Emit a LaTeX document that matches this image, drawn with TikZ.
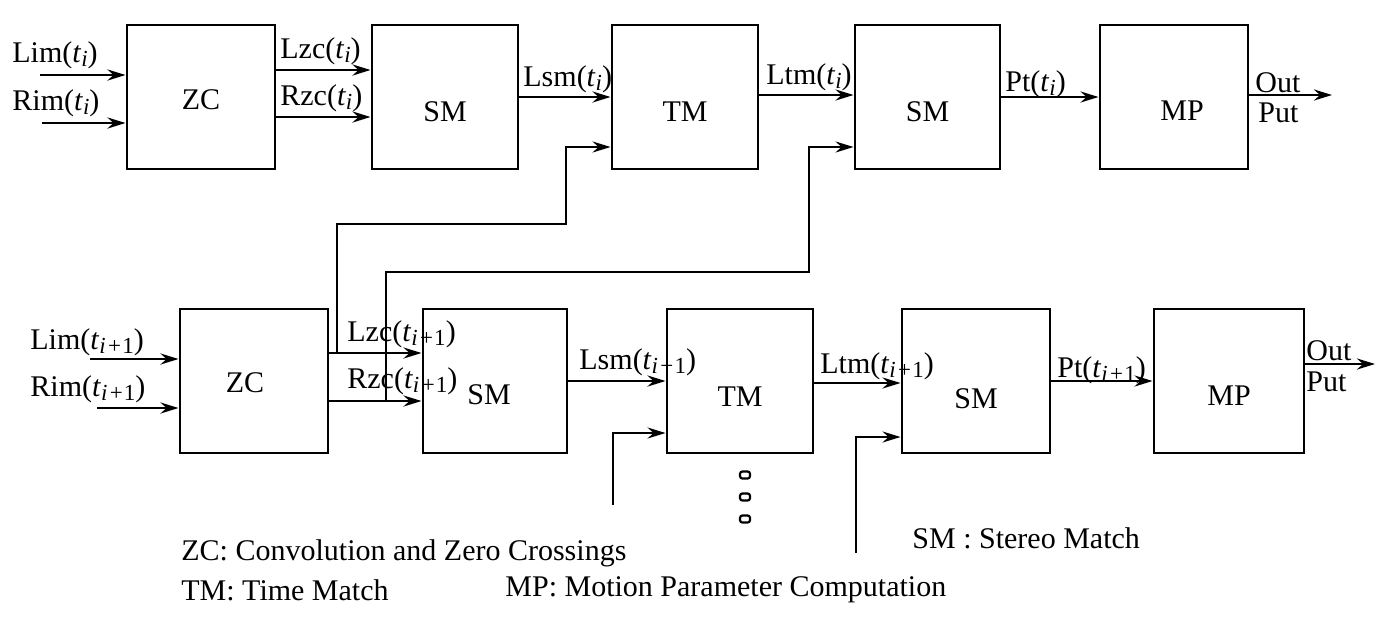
\documentclass[tikz,border=0pt]{standalone}
\usepackage{fontspec}
\setmainfont{Liberation Serif}
\usetikzlibrary{arrows.meta}
\newcommand\tsb[1]{\textit{t}\raisebox{-0.35ex}{\fontsize{11.5}{12}\selectfont #1}}
\newcommand\ipo{\textit{i}\kern1.2pt+\kern0.6pt1}
\begin{document}
\begin{tikzpicture}[x=0.5pt,y=-0.5pt,
  blk/.style={draw, line width=1.45pt, minimum height=72pt, inner sep=0pt},
  arr/.style={line width=1.4pt, -{Stealth[length=9pt,width=5.5pt,inset=3pt]}},
  feed/.style={line width=1.15pt},
  lbl/.style={anchor=base west, inner sep=0pt},
  txt/.style={inner sep=0pt},
  font=\fontsize{15}{18}\selectfont]
\useasboundingbox (0,0) rectangle (1384,617);

% ---- top row boxes
\node[blk, minimum width=74pt]   (zc1)  at (201,97)   {};
\node[blk, minimum width=73pt]   (sm1)  at (445,97)   {};
\node[blk, minimum width=73pt]   (tm1)  at (685,97)   {};
\node[blk, minimum width=72.5pt] (sm1b) at (927.5,97) {};
\node[blk, minimum width=74pt]   (mp1)  at (1174,97)  {};
\node[txt] (zc1t)  at ([yshift=-1.5pt]zc1.center)  {ZC};
\node[txt] (sm1t)  at ([yshift=-7.5pt]sm1.center)  {SM};
\node[txt] (tm1t)  at ([yshift=-7.5pt]tm1.center)  {TM};
\node[txt] (sm1bt) at ([yshift=-7.5pt]sm1b.center) {SM};
\node[txt] (mp1t)  at ([xshift=4pt,yshift=-7pt]mp1.center) {MP};

% ---- bottom row boxes
\node[blk, minimum width=74pt] (zc2)  at (254,381)  {};
\node[blk, minimum width=72pt] (sm2)  at (495,381)  {};
\node[blk, minimum width=73pt] (tm2)  at (740,381)  {};
\node[blk, minimum width=74pt] (sm2b) at (976,381)  {};
\node[blk, minimum width=75pt] (mp2)  at (1229,381) {};
\node[txt] (zc2t)  at ([xshift=-4.5pt,yshift=-1pt]zc2.center) {ZC};
\node[txt] (sm2t)  at ([xshift=-3pt,yshift=-7pt]sm2.center)  {SM};
\node[txt] (tm2t)  at ([yshift=-8pt]tm2.center)  {TM};
\node[txt] (sm2bt) at ([yshift=-9pt]sm2b.center) {SM};
\node[txt] (mp2t)  at ([yshift=-7.5pt]mp2.center) {MP};

% ---- top row connectors
\coordinate (lim1) at (40,75);
\coordinate (rim1) at (42,123);
\draw[arr] (lim1) -- (zc1.west |- lim1);
\draw[arr] (rim1) -- (zc1.west |- rim1);
\draw[arr] (zc1.east |- 0,70)  -- (sm1.west |- 0,70);
\draw[arr] (zc1.east |- 0,117) -- (sm1.west |- 0,117);
\draw[arr] (sm1) -- (tm1);
\draw[arr] (tm1.east |- 0,95) -- (sm1b.west |- 0,95);
\draw[arr] (sm1b) -- (mp1);
\coordinate (out1) at (1332,95);
\draw[arr] (mp1.east |- out1) -- (out1);

% ---- top row labels
\node[lbl] (llim1) at (12,62)   {Lim(\tsb{\textit{i}})};
\node[lbl] (lrim1) at (12,110)  {Rim(\tsb{\textit{i}})};
\node[lbl] (llzc1) at (280,58)  {Lzc(\tsb{\textit{i}})};
\node[lbl] (lrzc1) at (280,105) {Rzc(\tsb{\textit{i}})};
\node[lbl] (llsm1) at (523,86)  {Lsm(\tsb{\textit{i}})};
\node[lbl] (lltm1) at (766,84)  {Ltm(\tsb{\textit{i}})};
\node[lbl] (lpt1)  at (1005,91) {Pt(\tsb{\textit{i}})};
\node[lbl] (lout1) at (1255,92) {Out};
\node[lbl] (lput1) at (1258,122) {Put};

% ---- bottom row connectors
\coordinate (lim2) at (90,359);
\coordinate (rim2) at (97,408);
\draw[arr] (lim2) -- (zc2.west |- lim2);
\draw[arr] (rim2) -- (zc2.west |- rim2);
\draw[arr] (zc2.east |- 0,353) -- (sm2.west |- 0,353);
\draw[arr] (zc2.east |- 0,401) -- (sm2.west |- 0,401);
\draw[arr] (sm2) -- (tm2);
\draw[arr] (tm2.east |- 0,383) -- (sm2b.west |- 0,383);
\draw[arr] (sm2b) -- (mp2);
\coordinate (out2) at (1375,364);
\draw[arr] (mp2.east |- out2) -- (out2);

% ---- bottom row labels
\node[lbl] (llim2) at (30,349)   {Lim(\tsb{\ipo})};
\node[lbl] (lrim2) at (30,396)   {Rim(\tsb{\ipo})};
\node[lbl] (llzc2) at (347,341)  {Lzc(\tsb{\ipo})};
\node[lbl] (lrzc2) at (347,388)  {Rzc(\tsb{\ipo})};
\node[lbl] (llsm2) at (579,369)  {Lsm(\tsb{\ipo})};
\node[lbl] (lltm2) at (820,373)  {Ltm(\tsb{\ipo})};
\node[lbl] (lpt2)  at (1057,377) {Pt(\tsb{\ipo})};
\node[lbl] (lout2) at (1306,360) {Out};
\node[lbl] (lput2) at (1306,391) {Put};

% ---- cross feeds between rows
\coordinate (fa)  at (337,353);
\coordinate (fa1) at (566,224);
\draw[arr,feed] (fa) |- (fa1) |- (tm1.west |- 0,147);
\coordinate (fb)  at (386,401);
\coordinate (fb1) at (809,272);
\draw[arr,feed] (fb) |- (fb1) |- (sm1b.west |- 0,147);
\coordinate (fc) at (613,505);
\draw[arr,feed] (fc) |- (tm2.west |- 0,433);
\coordinate (fd) at (856,553);
\draw[arr,feed] (fd) |- (sm2b.west |- 0,437);

% ---- continuation dots
\foreach \yy in {475,497,519}
  \draw[line width=1.1pt, rounded corners=1.2pt] (740,{\yy-3.5}) rectangle (750,{\yy+3.5});

% ---- legend
\node[lbl] (lgzc) at (181,560) {ZC: Convolution and Zero Crossings};
\node[lbl] (lgtm) at (181,600) {TM: Time Match};
\node[lbl] (lgmp) at (505,596) {MP: Motion Parameter Computation};
\node[lbl] (lgsm) at (912,548) {SM : Stereo Match};
\end{tikzpicture}
\end{document}
